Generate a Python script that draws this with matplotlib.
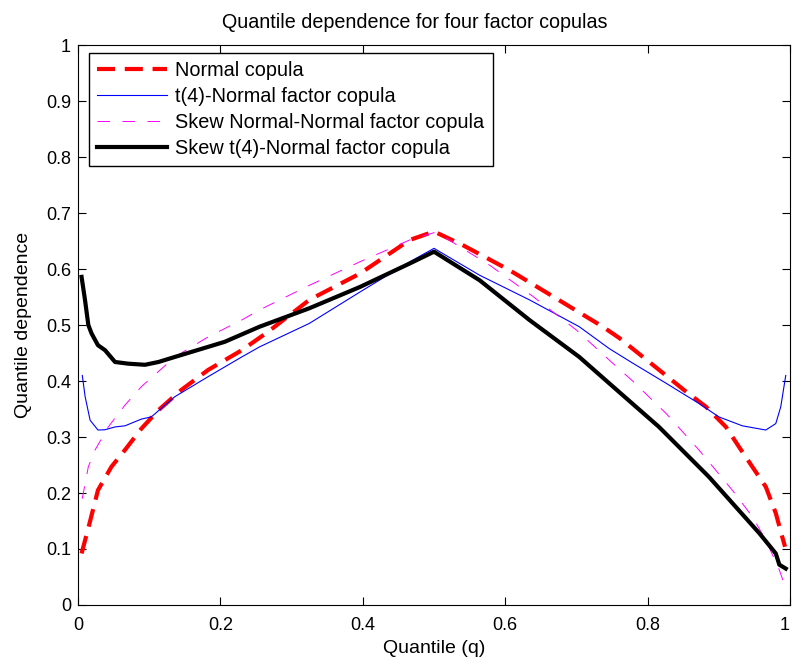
import matplotlib
matplotlib.use("Agg")
import matplotlib.pyplot as plt

plt.rcParams['font.family'] = ['Liberation Sans', 'DejaVu Sans']
plt.rcParams['lines.scale_dashes'] = False

# Normal copula
q_norm = [0.005, 0.015, 0.028, 0.047, 0.066, 0.089, 0.113, 0.145, 0.183, 0.23,
          0.267, 0.325, 0.396, 0.466, 0.5, 0.54, 0.606, 0.671, 0.737, 0.76,
          0.816, 0.854, 0.882, 0.91, 0.928, 0.947, 0.966, 0.98, 0.989, 0.993]
y_norm = [0.092, 0.14, 0.205, 0.247, 0.277, 0.315, 0.348, 0.384, 0.42, 0.455,
          0.488, 0.545, 0.592, 0.652, 0.667, 0.643, 0.598, 0.548, 0.497, 0.477,
          0.42, 0.381, 0.354, 0.318, 0.283, 0.247, 0.211, 0.164, 0.122, 0.104]

# t(4)-Normal factor copula
q_t4 = [0.006, 0.01, 0.017, 0.028, 0.038, 0.052, 0.066, 0.089, 0.103, 0.136,
        0.183, 0.23, 0.255, 0.325, 0.396, 0.466, 0.5, 0.564, 0.634, 0.704,
        0.746, 0.779, 0.826, 0.872, 0.9, 0.933, 0.966, 0.98, 0.987, 0.994]
y_t4 = [0.41, 0.372, 0.33, 0.3125, 0.313, 0.318, 0.32, 0.332, 0.336, 0.372,
        0.408, 0.443, 0.461, 0.503, 0.559, 0.613, 0.637, 0.589, 0.545, 0.497,
        0.458, 0.432, 0.396, 0.36, 0.336, 0.32, 0.3125, 0.324, 0.354, 0.41]

# Skew Normal-Normal factor copula
q_sn = [0.006, 0.0145, 0.024, 0.0425, 0.066, 0.089, 0.113, 0.136, 0.183, 0.23,
        0.255, 0.325, 0.396, 0.466, 0.5, 0.517, 0.578, 0.639, 0.7, 0.746,
        0.779, 0.826, 0.872, 0.919, 0.947, 0.966, 0.985, 0.994]
y_sn = [0.19, 0.247, 0.277, 0.318, 0.357, 0.39, 0.417, 0.443, 0.479, 0.509,
        0.527, 0.571, 0.613, 0.652, 0.665, 0.655, 0.607, 0.551, 0.491, 0.4375,
        0.40, 0.342, 0.277, 0.205, 0.158, 0.116, 0.0625, 0.03]

# Skew t(4)-Normal factor copula
q_st4 = [0.005, 0.0098, 0.0145, 0.019, 0.028, 0.038, 0.052, 0.0705, 0.094, 0.113,
         0.136, 0.206, 0.255, 0.325, 0.396, 0.466, 0.5, 0.564, 0.634, 0.704,
         0.746, 0.816, 0.886, 0.957, 0.98, 0.985, 0.994]
y_st4 = [0.586, 0.545, 0.5, 0.485, 0.464, 0.455, 0.434, 0.431, 0.429, 0.434,
         0.443, 0.47, 0.497, 0.53, 0.568, 0.61, 0.631, 0.58, 0.509, 0.443,
         0.396, 0.318, 0.229, 0.128, 0.092, 0.072, 0.065]

fig = plt.figure(figsize=(7.92, 6.63), dpi=100)
ax = fig.add_axes([0.0985, 0.0875, 0.899, 0.8445])

ax.plot(q_norm, y_norm, color='red', lw=3, dashes=(13, 7), label='Normal copula')
ax.plot(q_t4, y_t4, color='blue', lw=0.8, label='t(4)-Normal factor copula')
ax.plot(q_sn, y_sn, color='magenta', lw=0.7, dashes=(9, 9),
        label='Skew Normal-Normal factor copula')
ax.plot(q_st4, y_st4, color='black', lw=3, label='Skew t(4)-Normal factor copula')

ax.set_xlim(0, 1)
ax.set_ylim(0, 1)
ax.set_xticks([0, 0.2, 0.4, 0.6, 0.8, 1])
ax.set_xticklabels(['0', '0.2', '0.4', '0.6', '0.8', '1'])
ax.get_xticklabels()[-1].set_horizontalalignment('right')
ax.set_yticks([i / 10 for i in range(11)])
ax.set_yticklabels(['0'] + ['%.1f' % (i / 10) for i in range(1, 10)] + ['1'])
ax.tick_params(direction='in', top=True, right=True, labelsize=13, length=6)
ax.tick_params(axis='x', pad=9)
ax.tick_params(axis='y', pad=5)
ax.set_xlabel('Quantile (q)', fontsize=14, labelpad=4)
ax.set_ylabel('Quantile dependence', fontsize=14, labelpad=10)
ax.set_title('Quantile dependence for four factor copulas', fontsize=14.2,
             pad=12, x=0.473)

leg = ax.legend(loc='upper left', bbox_to_anchor=(0.0155, 0.986), borderaxespad=0,
                fontsize=14.3, handlelength=3.5, fancybox=False,
                framealpha=1, edgecolor='black',
                labelspacing=0.36, handletextpad=0.45, borderpad=0.4)
leg.get_frame().set_linewidth(1.0)

fig.savefig('out.png', dpi=100)
